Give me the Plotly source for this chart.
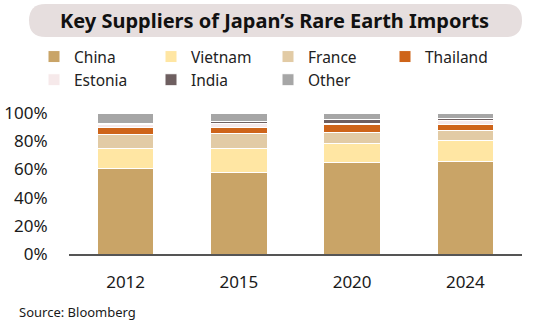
import plotly.graph_objects as go

years = ["2012", "2015", "2020", "2024"]
series_names = ["China", "Vietnam", "France", "Thailand", "Estonia", "India", "Other"]
china = [60.4, 58.1, 65.2, 65.9]
vietnam = [14.7, 17.0, 13.2, 14.7]
france = [10.0, 10.7, 7.6, 7.1]
thailand = [4.7, 4.0, 5.5, 3.8]
estonia = [2.4, 3.1, 1.4, 3.3]
india = [0.5, 0.9, 2.6, 1.4]
other = [7.3, 6.2, 4.5, 3.8]
values = [china, vietnam, france, thailand, estonia, india, other]
colors = ["#C9A467", "#FFE6A3", "#E2CBA5", "#CE6419", "#F6E9EA", "#6E5F60", "#A6A6A6"]
y_ticks = [0, 20, 40, 60, 80, 100]
y_tick_text = ["0%", "20%", "40%", "60%", "80%", "100%"]

FONT = "Noto Sans"
W, H = 541, 331
L, R, T, B = 69, 19, 113, 77
PW, PH = W - L - R, H - T - B

fig = go.Figure()
for name, vals, col in zip(series_names, values, colors):
    fig.add_trace(go.Bar(
        x=years, y=vals, name=name,
        marker=dict(color=col, line=dict(color="white", width=1)),
        width=0.5,
    ))

def px2paper(px, py):
    return (px - L) / PW, (H - B - py) / PH

# pill-shaped title background
x0, x1, y0, y1, r = 29, 522, 4, 37, 16.5
pts = []
def P(cmd, *xy):
    s = cmd
    for i in range(0, len(xy), 2):
        a, b = px2paper(xy[i], xy[i + 1])
        s += f" {a:.5f},{b:.5f}"
    pts.append(s)
P("M", x0 + r, y0)
P("L", x1 - r, y0)
P("Q", x1, y0, x1, y0 + r)
P("Q", x1, y1, x1 - r, y1)
P("L", x0 + r, y1)
P("Q", x0, y1, x0, y0 + r)
P("Q", x0, y0, x0 + r, y0)
path = " ".join(pts) + " Z"

lx, ly = px2paper(34, 40)

fig.update_layout(
    width=W, height=H,
    margin=dict(l=L, r=R, t=T, b=B, autoexpand=False),
    barmode="stack",
    paper_bgcolor="white", plot_bgcolor="white",
    font=dict(family=FONT, color="#1a1a1a"),
    shapes=[dict(type="path", xref="paper", yref="paper", path=path,
                 fillcolor="#E6DEDE", line=dict(width=0), layer="below")],
    annotations=[
        dict(text="<b>Key Suppliers of Japan’s Rare Earth Imports</b>",
             xref="paper", yref="paper",
             x=px2paper(274, 0)[0], y=px2paper(0, 20.5)[1],
             xanchor="center", yanchor="middle", showarrow=False,
             font=dict(size=20, family=FONT, color="#111111")),
        dict(text="Source: Bloomberg", xref="paper", yref="paper",
             x=px2paper(17, 0)[0], y=px2paper(0, 312)[1],
             xanchor="left", yanchor="middle", showarrow=False,
             font=dict(size=13, family=FONT, color="#1a1a1a")),
    ],
    legend=dict(
        orientation="h", xref="paper", yref="paper",
        x=lx, y=ly, xanchor="left", yanchor="top",
        entrywidth=72, entrywidthmode="pixels",
        itemwidth=30, font=dict(size=15.5, family=FONT, color="#222222"),
        traceorder="normal", tracegroupgap=0,
        bgcolor="rgba(0,0,0,0)",
    ),
    showlegend=True,
)
fig.update_xaxes(
    showline=True, linecolor="#555555", linewidth=1.5,
    ticks="outside", ticklen=12, tickcolor="rgba(0,0,0,0)",
    tickfont=dict(size=17, family=FONT, color="#1a1a1a"),
    showgrid=False, range=[-0.5, 3.5],
)
fig.update_yaxes(
    range=[0, 100], tickvals=y_ticks, ticktext=y_tick_text,
    ticks="outside", ticklen=17, tickcolor="rgba(0,0,0,0)",
    tickfont=dict(size=17, family=FONT, color="#1a1a1a"),
    showgrid=False, showline=False, zeroline=False,
)
fig.write_html("out.html")
